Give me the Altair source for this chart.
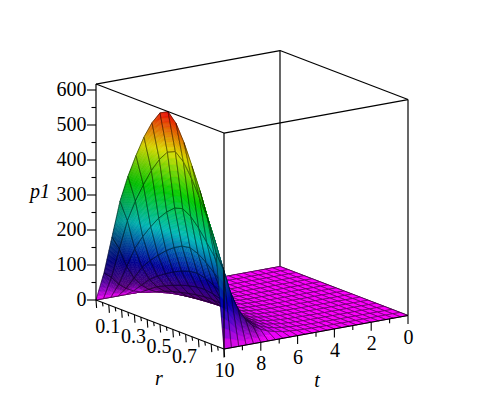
import colorsys
import altair as alt
import numpy as np

# values
r_grid = [0, .0625, .125, .1875, .25, .3125, .375, .4375, .5, .5625, .625, .6875, .75, .8125, .875, .9375, 1]
r_profile = [0, .14, .32, .50, .63, .74, .84, .92, .98, 1, .96, .885, .79, .69, .57, .43, 0]
t_grid = [0, .4, .8, 1.2, 1.6, 2, 2.4, 2.8, 3.2, 3.6, 4, 4.4, 4.8, 5.2, 5.6, 6, 6.4, 6.8, 7.2, 7.6, 8, 8.4, 8.8, 9.2, 9.6, 10]
t_peak = [0, .01, .02, .04, .06, .1, .15, .25, .4, .6, 1, 1.6, 2.5, 4, 6, 10, 15, 24, 37, 58, 90, 140, 217, 332, 499, 617]
z_ticks = [0, 100, 200, 300, 400, 500, 600]
r_labels = [.1, .3, .5, .7]
t_labels = [0, 2, 4, 6, 8, 10]
z_max, z_px = 617, .35

R = np.array(r_grid)
T = np.array(t_grid)
Z = np.outer(t_peak, r_profile)          # row = t, column = r
VIEW = np.array([.79, .55, .266])


def proj(r, t, z):
    return (round(88 + 128 * r + 18.4 * (10 - t), 2),
            round(292 + 49 * r - 3.35 * (10 - t) - z_px * z, 2))


def feature(kind, pts, fill="none", stroke="#000000", sw=1.0, so=1.0):
    coords = [pts] if kind == "Polygon" else pts
    return {"type": "Feature", "geometry": {"type": kind, "coordinates": coords},
            "properties": {"fill": fill, "stroke": stroke, "sw": sw, "so": so}}


def line(a, b, **kw):
    return feature("LineString", [list(proj(*a)), list(proj(*b))], **kw)


# vertex shading from the surface normal as seen from the viewer
dz_t, dz_r = np.gradient(Z / z_max, T / 10, R)
nrm = np.sqrt(dz_r ** 2 + dz_t ** 2 + 1)
facing = (-dz_t * VIEW[1] + VIEW[2]) / nrm
under = .25 + .75 * np.abs(facing) + .3 * Z / z_max
shade = np.where(facing > 0, np.minimum(1, .9 + .5 * facing), np.maximum(.48, under))


def colour(z, v):
    hue = max(0, 300 * (1 - z / z_max)) / 360
    rgb = colorsys.hsv_to_rgb(hue, 1, float(np.clip(v, 0, 1)))
    return "#%02x%02x%02x" % tuple(int(c * 255) for c in rgb)


features = []
# edges behind the surface
features += [line((0, 10, 0), (0, 0, 0), sw=1.2), line((0, 0, 0), (1, 0, 0), sw=1.2),
             line((0, 0, 0), (0, 0, z_max), sw=1.2), line((0, 0, z_max), (0, 10, z_max), sw=1.2),
             line((0, 0, z_max), (1, 0, z_max), sw=1.2), line((1, 0, 0), (1, 0, z_max), sw=1.2)]

# surface, back to front
for it in range(len(T) - 1):
    for ir in range(len(R) - 1):
        zs = Z[it:it + 2, ir:ir + 2]
        vs = shade[it:it + 2, ir:ir + 2]
        n = int(np.clip(np.ceil((zs.max() - zs.min()) * z_px / 6), 1, 9))
        for a in range(n):
            for b in range(n):
                pts, zq, vq = [], [], []
                for u, w in [(a, b), (a + 1, b), (a + 1, b + 1), (a, b + 1), (a, b)]:
                    fu, fw = u / n, w / n
                    zz = (zs[0, 0] * (1 - fu) * (1 - fw) + zs[1, 0] * fu * (1 - fw)
                          + zs[0, 1] * (1 - fu) * fw + zs[1, 1] * fu * fw)
                    vv = (vs[0, 0] * (1 - fu) * (1 - fw) + vs[1, 0] * fu * (1 - fw)
                          + vs[0, 1] * (1 - fu) * fw + vs[1, 1] * fu * fw)
                    pts.append(list(proj(R[ir] + (R[ir + 1] - R[ir]) * fw, T[it] + (T[it + 1] - T[it]) * fu, zz)))
                    zq.append(zz)
                    vq.append(vv)
                col = colour(np.mean(zq[:4]), np.mean(vq[:4]))
                features.append(feature("Polygon", pts, fill=col, stroke=col, sw=.5))
        corners = [list(proj(R[ir + i], T[it + j], Z[it + j, ir + i])) for i, j in [(0, 0), (1, 0), (1, 1), (0, 1), (0, 0)]]
        features.append(feature("Polygon", corners, sw=.7, so=.65))

# edges in front of the surface
features += [line((0, 10, 0), (0, 10, z_max), sw=1.2), line((0, 10, z_max), (1, 10, z_max), sw=1.2),
             line((1, 10, 0), (1, 10, z_max), sw=1.2), line((1, 10, z_max), (1, 0, z_max), sw=1.2),
             line((0, 10, 0), (1, 10, 0), sw=1.2), line((1, 10, 0), (1, 0, 0), sw=1.2)]


def tick(base, dx, dy):
    x, y = proj(*base)
    return feature("LineString", [[x, y], [round(x + dx, 2), round(y + dy, 2)]], sw=1.1)


for k in range(13):
    features.append(tick((0, 10, 50 * k), -9 if k % 2 == 0 else -4.5, 0))
for k in range(21):
    features.append(tick((k * .05, 10, 0), .6, 8 if k % 2 == 0 else 4))
for k in range(11):
    features.append(tick((1, k, 0), 0, 8.5 if k % 2 == 0 else 4.5))

surface = alt.Chart(alt.Data(values=features)).mark_geoshape(strokeJoin="round").encode(
    fill=alt.Fill("properties.fill:N", scale=None),
    stroke=alt.Stroke("properties.stroke:N", scale=None),
    strokeWidth=alt.StrokeWidth("properties.sw:Q", scale=None),
    strokeOpacity=alt.StrokeOpacity("properties.so:Q", scale=None),
)


def label(text, pos, dx, dy):
    x, y = proj(*pos)
    return {"text": text, "lon": x + dx, "lat": y + dy}


right_rows = [label(str(v), (0, 10, v), -9.5, 0) for v in z_ticks]
centre_rows = [label(str(v), (v, 10, 0), -1, 22.5) for v in r_labels] + \
              [label(str(v), (1, v, 0), 0.5, 22) for v in t_labels]
ital_rows = [label("r", (.5, 10, 0), -1, 54), label("t", (1, 5, 0), 1, 49), label("p1", (0, 10, 308), -56, 0)]


def texts(rows, **kw):
    return alt.Chart(alt.Data(values=rows)).mark_text(
        font="Liberation Serif", fontSize=20, color="#000000", baseline="middle", **kw
    ).encode(longitude="lon:Q", latitude="lat:Q", text="text:N")


chart = alt.layer(
    surface,
    texts(right_rows, align="right"),
    texts(centre_rows, align="center"),
    texts(ital_rows, align="center", fontStyle="italic"),
).project(type="identity", scale=1, translate=[0, 0]).properties(
    width=488, height=384, padding=0
).configure_view(stroke=None)

chart.save("out.html", embed_options={"renderer": "svg", "actions": False})
